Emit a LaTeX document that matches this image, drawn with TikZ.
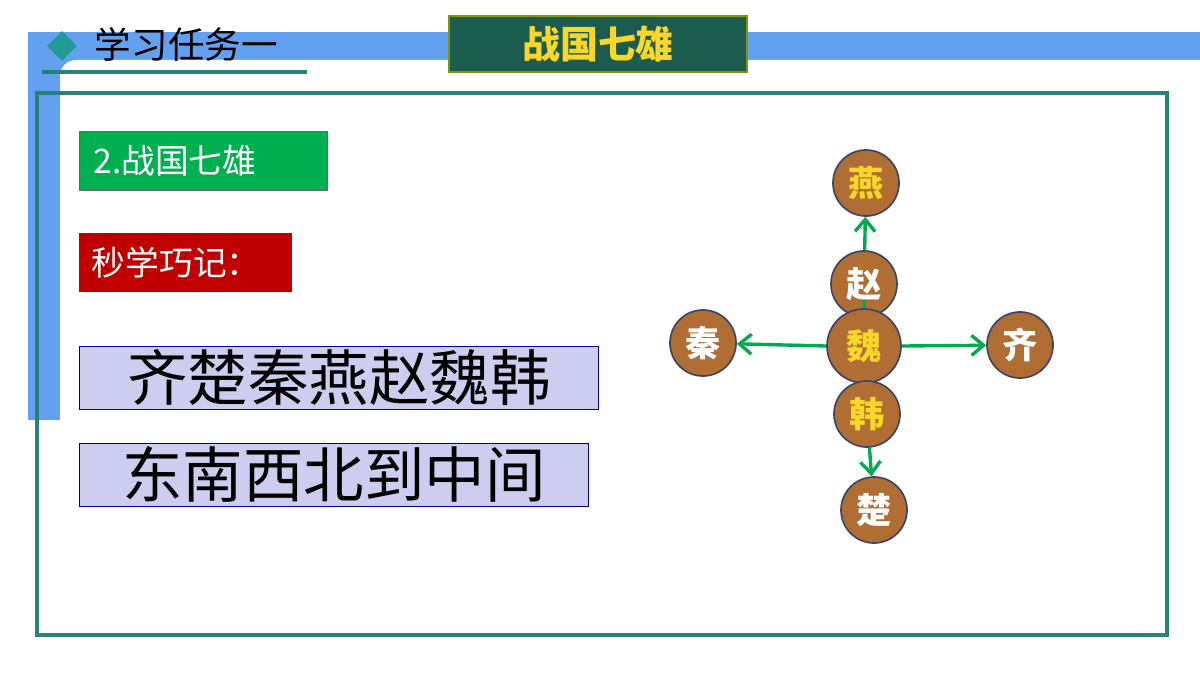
\documentclass[tikz,border=0pt]{standalone}
\usepackage{fontspec}
\newfontfamily\cjk{Noto Sans CJK SC}
\usetikzlibrary{shapes.geometric,arrows.meta}
\definecolor{bandblue}{RGB}{100,160,240}
\definecolor{frameteal}{RGB}{40,130,120}
\definecolor{titlegreen}{RGB}{28,92,78}
\definecolor{titleyellow}{RGB}{250,215,40}
\definecolor{tagreen}{RGB}{0,176,80}
\definecolor{tagred}{RGB}{192,0,0}
\definecolor{lavender}{RGB}{205,205,240}
\definecolor{stateb}{RGB}{176,110,52}
\definecolor{stateedge}{RGB}{60,70,100}
\definecolor{arrowgreen}{RGB}{0,170,80}
\tikzset{
  state/.style={circle, draw=stateedge, line width=1.2pt, fill=stateb,
    minimum size=1.65cm, inner sep=0pt, font=\cjk\bfseries\fontsize{25}{25}\selectfont},
  tag/.style={anchor=north west, minimum height=1.475cm, inner sep=0pt,
    text=white, font=\cjk\fontsize{24}{24}\selectfont},
  memo/.style={anchor=north west, draw=blue!60!black, fill=lavender,
    minimum height=1.575cm, inner sep=0pt, font=\cjk\fontsize{43}{43}\selectfont},
  link/.style={draw=arrowgreen, line width=2.4pt, -{Straight Barb[length=3mm,width=5mm]}}
}
\begin{document}
\begin{tikzpicture}[x=0.025cm,y=-0.025cm]
  \useasboundingbox (0,0) rectangle (1200,675);
  % band and frame
  \fill[bandblue] (28,32) rectangle (1200,420);
  \fill[white, rounded corners=0.4cm] (60,60) rectangle (1260,720);
  \node[diamond, fill=frameteal!80!cyan, minimum size=0.75cm, inner sep=0pt] (mark) at (62,46) {};
  \node[anchor=west, font=\cjk\fontsize{26}{26}\selectfont] (task) at (90,44) {学习任务一};
  \draw[frameteal, line width=2.5pt] (42,72) -- (307,72);
  \node[draw=olive!70!green, line width=1.2pt, fill=titlegreen, minimum width=7.45cm,
    minimum height=1.4cm, text=titleyellow, font=\cjk\bfseries\fontsize{27}{27}\selectfont] (title) at (598,44) {战国七雄};
  \draw[frameteal, line width=2.5pt] (37,93) rectangle (1167,635);

  % left texts
  \node[tag, fill=tagreen, draw=black!60, minimum width=6.2cm, text width=6cm] (item) at (79,131) {\hspace{0.25cm}2.战国七雄};
  \node[tag, fill=tagred, minimum width=5.325cm, text width=5.2cm] (trick) at (79,233) {\hspace{0.25cm}秒学巧记：};
  \node[memo, minimum width=12.975cm] (order) at (79,346) {齐楚秦燕赵魏韩};
  \node[memo, minimum width=12.725cm] (dirs) at (79,443) {东南西北到中间};

  % states
  \node[state, text=titleyellow] (yan) at (866,183) {燕};
  \node[state, text=white] (zhao) at (864,284) {赵};
  \draw[arrowgreen, line width=2.4pt] (864,300) -- (866,400);
  \node[state, text=titleyellow, minimum size=1.85cm] (wei) at (864,346) {魏};
  \node[state, text=titleyellow] (han) at (867,414) {韩};
  \node[state, text=white] (chu) at (874,510) {楚};
  \node[state, text=white] (qin) at (703,343) {秦};
  \node[state, text=white] (qi) at (1020,345) {齐};
  \draw[link] (zhao) -- (yan);
  \draw[link] (wei.west) -- (qin);
  \draw[link] (wei.east) -- (qi);
  \draw[link] (han) -- (chu);
\end{tikzpicture}
\end{document}
